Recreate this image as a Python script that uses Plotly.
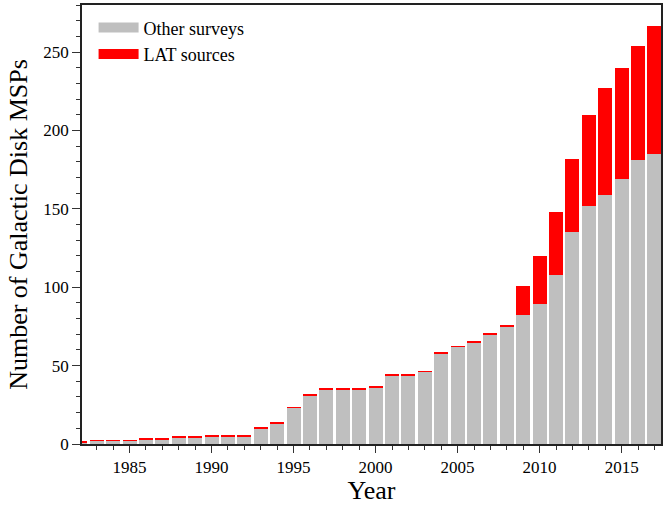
import plotly.graph_objects as go

years = list(range(1982, 2018))
other_surveys = [1, 2, 2, 2, 3, 3, 4, 4, 5, 5, 5, 10, 13, 23, 31, 35, 35, 35, 36,
                 44, 44, 46, 58, 62, 65, 70, 75, 82, 89, 108, 135, 152, 159, 169, 181, 185]
lat_sources = [0, 0, 0, 0, 0, 0, 0, 0, 0, 0, 0, 0, 0, 0, 0, 0, 0, 0, 0,
               0, 0, 0, 0, 0, 0, 0, 0, 18, 30, 39, 46, 57, 67, 70, 72, 81]
edge_height = 0.5  # thin red outline on top of each stacked bar

GRAY = "#bfbfbf"
RED = "#ff0000"
FONT = "Liberation Serif"

fig = go.Figure()
fig.add_trace(go.Bar(x=years, y=other_surveys, marker=dict(color=GRAY, line=dict(width=0)),
                     name="Other surveys", showlegend=False, legendgroup="o"))
fig.add_trace(go.Bar(x=years, y=lat_sources, marker=dict(color=RED, line=dict(width=0)),
                     name="LAT sources", showlegend=False, legendgroup="l"))
fig.add_trace(go.Bar(x=years, y=[edge_height] * len(years), marker=dict(color=RED, line=dict(width=0)),
                     showlegend=False, hoverinfo="skip"))
# legend entries (wide patches)
fig.add_trace(go.Scatter(x=[None], y=[None], mode="lines", line=dict(color=GRAY, width=13),
                         name="Other surveys", legendgroup="o"))
fig.add_trace(go.Scatter(x=[None], y=[None], mode="lines", line=dict(color=RED, width=13),
                         name="LAT sources", legendgroup="l"))

fig.update_layout(
    width=664, height=505,
    margin=dict(l=82, r=1, t=5, b=61),
    barmode="stack", bargap=0.15,
    plot_bgcolor="white", paper_bgcolor="white",
    font=dict(family=FONT, size=17, color="black"),
    legend=dict(x=0.02, y=0.99, xanchor="left", yanchor="top",
                font=dict(family=FONT, size=18), bgcolor="rgba(0,0,0,0)",
                itemwidth=40, tracegroupgap=0),
)
fig.update_xaxes(
    range=[1982.1, 2017.4], tickmode="linear", tick0=1985, dtick=5,
    ticks="outside", ticklen=7, tickwidth=1.2, tickcolor="#333",
    minor=dict(tickmode="linear", tick0=1982, dtick=1, ticks="outside", ticklen=4, tickwidth=1, tickcolor="#333"),
    showline=True, linecolor="#222", linewidth=1.5, mirror=True,
    showgrid=False, zeroline=False,
    title=dict(text="Year", font=dict(family=FONT, size=26), standoff=2),
    tickfont=dict(family=FONT, size=17),
)
fig.update_yaxes(
    range=[0, 280], tickmode="linear", tick0=0, dtick=50,
    ticks="outside", ticklen=8, tickwidth=1.2, tickcolor="#333",
    minor=dict(tickmode="linear", tick0=0, dtick=10, ticks="outside", ticklen=4, tickwidth=1, tickcolor="#333"),
    showline=True, linecolor="#222", linewidth=1.5, mirror=True,
    showgrid=False, zeroline=False,
    title=dict(text="Number of Galactic Disk MSPs", font=dict(family=FONT, size=26), standoff=8),
    tickfont=dict(family=FONT, size=17),
)

fig.write_html("out.html", config={"displayModeBar": False},
               post_script="document.body.style.margin='0';document.body.style.overflow='hidden';")
